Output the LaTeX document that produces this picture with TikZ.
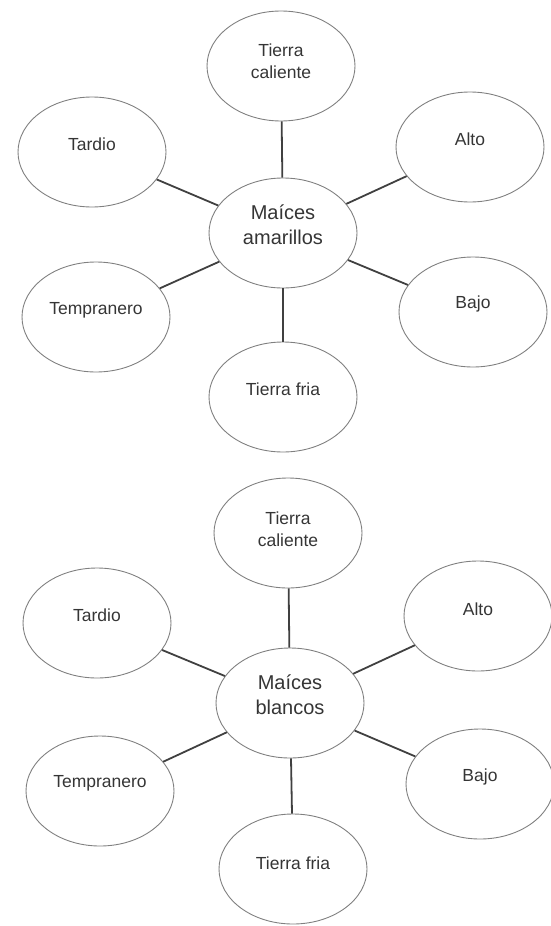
\documentclass[tikz,border=0pt]{standalone}
\usepackage{fontspec}
\setmainfont{Liberation Sans}
\usetikzlibrary{shapes.geometric}
\definecolor{inkgray}{HTML}{353535}
\definecolor{rimgray}{HTML}{808080}
\definecolor{linkgray}{HTML}{404040}
\tikzset{
  bubble/.style={ellipse, draw=rimgray, line width=0.9pt, minimum width=148pt, minimum height=110pt, inner sep=0pt},
  txt/.style={text=inkgray, font=\fontsize{17.5}{22}\selectfont, align=center, inner sep=0pt},
  bigtxt/.style={text=inkgray, font=\fontsize{20}{25}\selectfont, align=center, inner sep=0pt},
  link/.style={draw=linkgray, line width=1.8pt}
}
\begin{document}
\begin{tikzpicture}[x=1pt,y=-1pt]
\useasboundingbox (0,0) rectangle (550,926);
% ---------- top diagram ----------
\node[bubble] (tc1) at (281,66) {};
\node[bubble] (td1) at (92,152) {};
\node[bubble] (al1) at (470,147) {};
\node[bubble] (c1)  at (283,233) {};
\node[bubble] (te1) at (96,317) {};
\node[bubble] (ba1) at (473,312) {};
\node[bubble] (tf1) at (283,397) {};
\node[txt] (tc1t) at (281,61) {Tierra\\caliente};
\node[txt] (td1t) at (92,144) {Tardio};
\node[txt] (al1t) at (470,139) {Alto};
\node[bigtxt] (c1t) at (283,225) {Maíces\\amarillos};
\node[txt] (te1t) at (96,310) {Tempranero};
\node[txt] (ba1t) at (473,304) {Bajo};
\node[txt] (tf1t) at (283,389) {Tierra fria};
\foreach \n in {tc1,td1,al1,te1,ba1,tf1} \draw[link] (c1) -- (\n);
% ---------- bottom diagram ----------
\node[bubble] (tc2) at (288,533) {};
\node[bubble] (td2) at (97,623) {};
\node[bubble] (al2) at (478,616) {};
\node[bubble] (c2)  at (290,703) {};
\node[bubble] (te2) at (100,791) {};
\node[bubble] (ba2) at (480,784) {};
\node[bubble] (tf2) at (293,869) {};
\node[txt] (tc2t) at (288,529) {Tierra\\caliente};
\node[txt] (td2t) at (97,615) {Tardio};
\node[txt] (al2t) at (478,609) {Alto};
\node[bigtxt] (c2t) at (290,695) {Maíces\\blancos};
\node[txt] (te2t) at (100,783) {Tempranero};
\node[txt] (ba2t) at (480,777) {Bajo};
\node[txt] (tf2t) at (293,863) {Tierra fria};
\foreach \n in {tc2,td2,al2,te2,ba2,tf2} \draw[link] (c2) -- (\n);
\end{tikzpicture}
\end{document}
